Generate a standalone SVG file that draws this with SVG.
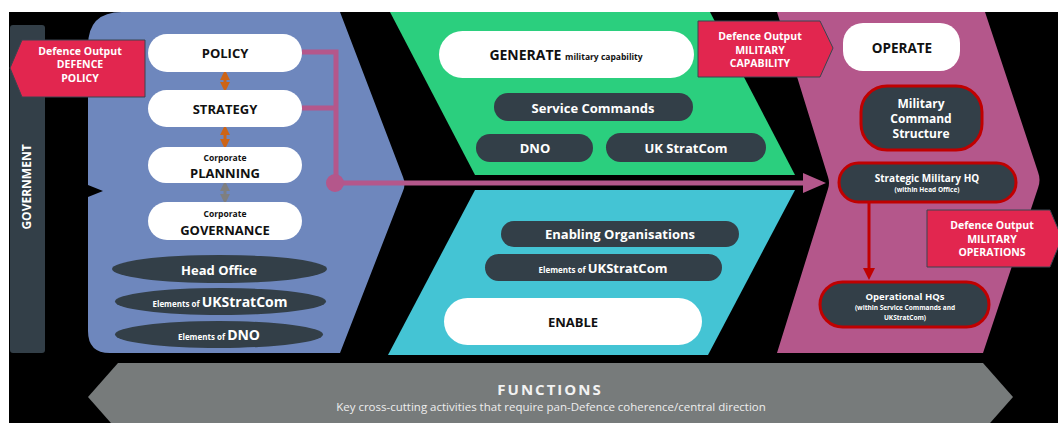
<svg xmlns="http://www.w3.org/2000/svg" width="1058" height="423" viewBox="0 0 1058 423">
<defs>
<style>
text{font-family:"Open Sans","Liberation Sans",sans-serif;font-weight:bold;text-anchor:middle}
text.nw{font-weight:normal}
.wp{fill:#ffffff}
.dp{fill:#333f48}
.rp{fill:#333f48;stroke:#c00000;stroke-width:3}
.bk{fill:#111111}
.wt{fill:#ffffff}
.co{fill:#e2264f;stroke:#3a4550;stroke-width:1}
.pk{fill:none;stroke:#b4578b;stroke-width:5}
</style>
<marker id="oa" viewBox="0 0 10 10" refX="5" refY="5" markerWidth="3.3" markerHeight="3.3" orient="auto-start-reverse"><path d="M0,0 L10,5 L0,10 Z" fill="#cd6416"/></marker>
<marker id="ga" viewBox="0 0 10 10" refX="5" refY="5" markerWidth="3.3" markerHeight="3.3" orient="auto-start-reverse"><path d="M0,0 L10,5 L0,10 Z" fill="#7f7f7f"/></marker>
</defs>
<rect x="0" y="0" width="1058" height="423" fill="#ffffff"/>
<rect x="9" y="12" width="1049" height="411" fill="#000000"/>

<g id="government">
<rect x="10" y="25" width="35" height="328" rx="3" fill="#333f48"/>
<text x="0" y="0" font-size="12" fill="#ffffff" transform="translate(31,187) rotate(-90)">GOVERNMENT</text>
</g>

<g id="panel-policy"><path d="M122,12 H340 L403,177 Q406,184 403,191 L340,353 H110 Q88,353 88,331 V46 Q88,12 122,12 Z" fill="#6e87bd"/></g>
<g id="panel-generate"><path d="M390,12 H710 L795,175 H475 Z" fill="#2bcf7e"/></g>
<g id="panel-enable"><path d="M475,190 H795 L708,355 H388 Z" fill="#44c4d4"/></g>
<g id="panel-operate"><path d="M777,12 H985 L1038,172 Q1041,180 1038,188 L983,353 H777 L828,189 Q830,183 828,177 Z" fill="#b4578b"/></g>
<g id="functions">
<path d="M118,363 H983 L1013,397 L983,431 H118 L88,397 Z" fill="#777b7b"/>
<text x="550" y="395" font-size="15" fill="#f2f2f2" letter-spacing="2">FUNCTIONS</text>
<text class="nw" x="551" y="411" font-size="11.5" fill="#eeeeee">Key cross-cutting activities that require pan-Defence coherence/central direction</text>
</g>

<g id="connectors">
<path class="pk" d="M302,52 H336 V183"/>
<path class="pk" d="M302,108 H336"/>
<path class="pk" d="M336,183 H806"/>
<circle cx="335" cy="183" r="9" fill="#b4578b"/>
<path d="M803,173 L826,183 L803,193 Z" fill="#b4578b"/>
<line x1="225" y1="75" x2="225" y2="87" stroke="#cd6416" stroke-width="3" marker-start="url(#oa)" marker-end="url(#oa)"/>
<line x1="225" y1="130" x2="225" y2="144" stroke="#cd6416" stroke-width="3" marker-start="url(#oa)" marker-end="url(#oa)"/>
<line x1="225" y1="186" x2="225" y2="199" stroke="#7f7f7f" stroke-width="3" marker-start="url(#ga)" marker-end="url(#ga)"/>
<line x1="869" y1="202" x2="869" y2="272" stroke="#c00000" stroke-width="3"/>
<path d="M863,268 L875,268 L869,280 Z" fill="#c00000"/>
<path d="M88,185 L103,191 L88,197 Z" fill="#000000"/>
</g>

<g id="node-policy"><rect class="wp" x="148" y="34" width="154" height="38" rx="19"/><text class="bk" x="225" y="58" font-size="13">POLICY</text></g>
<g id="node-strategy"><rect class="wp" x="148" y="90" width="154" height="37" rx="18.5"/><text class="bk" x="225" y="114" font-size="13">STRATEGY</text></g>
<g id="node-planning"><rect class="wp" x="148" y="147" width="154" height="36" rx="18"/><text class="bk" x="225" y="161" font-size="8.5">Corporate</text><text class="bk" x="225" y="178" font-size="13">PLANNING</text></g>
<g id="node-governance"><rect class="wp" x="148" y="202" width="154" height="38" rx="19"/><text class="bk" x="225" y="217" font-size="8.5">Corporate</text><text class="bk" x="225" y="235" font-size="13">GOVERNANCE</text></g>

<g id="node-head-office"><ellipse class="dp" cx="219.5" cy="269" rx="107.5" ry="14"/><text class="wt" x="219" y="275" font-size="13">Head Office</text></g>
<g id="node-elements-ukstratcom-1"><ellipse class="dp" cx="220.5" cy="301.5" rx="105.5" ry="13.5"/><text class="wt" x="220" y="307"><tspan font-size="8">Elements of </tspan><tspan font-size="14">UKStratCom</tspan></text></g>
<g id="node-elements-dno-1"><ellipse class="dp" cx="219" cy="334.5" rx="104" ry="13.5"/><text class="wt" x="219" y="340"><tspan font-size="8">Elements of </tspan><tspan font-size="14">DNO</tspan></text></g>

<g id="node-generate"><rect class="wp" x="439" y="31" width="255" height="47" rx="23.5"/><text class="bk" x="566" y="60"><tspan font-size="14">GENERATE </tspan><tspan font-size="8.5">military capability</tspan></text></g>
<g id="node-service-commands"><rect class="dp" x="494" y="93" width="199" height="28" rx="14"/><text class="wt" x="593" y="113" font-size="13">Service Commands</text></g>
<g id="node-dno"><rect class="dp" x="476" y="134" width="117" height="28" rx="14"/><text class="wt" x="535" y="153" font-size="13">DNO</text></g>
<g id="node-uk-stratcom"><rect class="dp" x="606" y="133" width="160" height="29" rx="14.5"/><text class="wt" x="686" y="153" font-size="13">UK StratCom</text></g>

<g id="node-enabling-organisations"><rect class="dp" x="501" y="221" width="238" height="26" rx="13"/><text class="wt" x="620" y="239" font-size="13">Enabling Organisations</text></g>
<g id="node-elements-ukstratcom-2"><rect class="dp" x="485" y="254" width="237" height="27" rx="13.5"/><text class="wt" x="603" y="273"><tspan font-size="8">Elements of  </tspan><tspan font-size="13">UKStratCom</tspan></text></g>
<g id="node-enable"><rect class="wp" x="444" y="298" width="258" height="47" rx="23.5"/><text class="bk" x="573" y="327" font-size="13">ENABLE</text></g>

<g id="node-operate"><rect class="wp" x="843" y="23" width="117" height="48" rx="20"/><text class="bk" x="902" y="53" font-size="13.5">OPERATE</text></g>
<g id="node-military-command"><rect class="rp" x="861" y="86" width="121" height="64" rx="26"/><text class="wt" x="921" y="108" font-size="12">Military</text><text class="wt" x="921" y="123" font-size="12">Command</text><text class="wt" x="921" y="138" font-size="12">Structure</text></g>
<g id="node-strategic-hq"><rect class="rp" x="839" y="163" width="177" height="39" rx="19.5"/><text class="wt" x="927" y="182" font-size="10">Strategic Military HQ</text><text class="wt" x="927" y="192" font-size="6.5">(within Head Office)</text></g>
<g id="node-operational-hqs"><rect class="rp" x="820" y="282" width="169" height="45" rx="22.5"/><text class="wt" x="905" y="300" font-size="9.5">Operational HQs</text><text class="wt" x="905" y="309.5" font-size="6.5">(within Service Commands and</text><text class="wt" x="905" y="319.5" font-size="6.5">UKStratCom)</text></g>

<g id="output-defence-policy"><path class="co" d="M145,40 V97 H22 L10,68 L22,40 Z"/><text class="wt" x="80" y="55" font-size="10.5">Defence Output</text><text class="wt" x="80" y="68" font-size="10.5">DEFENCE</text><text class="wt" x="80" y="82" font-size="10.5">POLICY</text></g>
<g id="output-military-capability"><path class="co" d="M698,21 H820 L833,48 L820,77 H698 Z"/><text class="wt" x="760" y="40" font-size="10.5">Defence Output</text><text class="wt" x="760" y="54" font-size="10.5">MILITARY</text><text class="wt" x="760" y="67" font-size="10.5">CAPABILITY</text></g>
<g id="output-military-operations"><path class="co" d="M927,210 H1050 L1062,238 L1050,267 H927 Z"/><text class="wt" x="992" y="229" font-size="10.5">Defence Output</text><text class="wt" x="992" y="243" font-size="10.5">MILITARY</text><text class="wt" x="992" y="256" font-size="10.5">OPERATIONS</text></g>
</svg>
